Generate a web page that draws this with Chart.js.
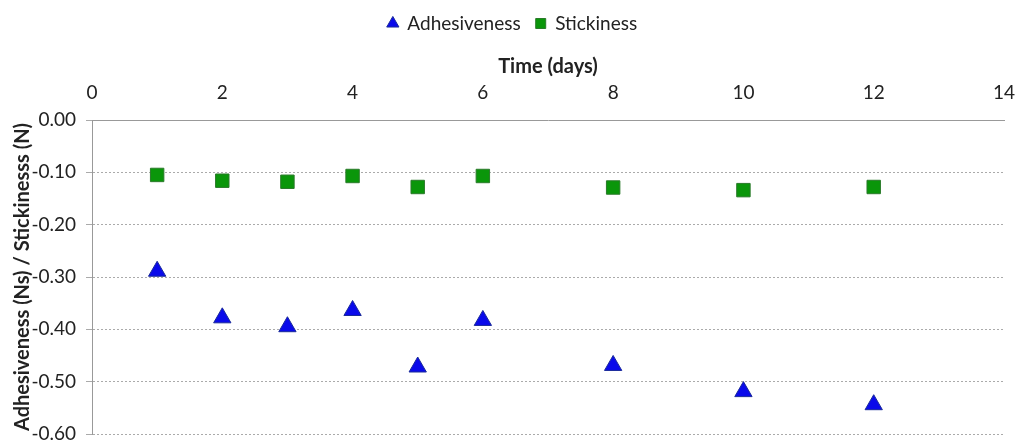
<!DOCTYPE html>
<html>
<head>
<meta charset="utf-8">
<script src="https://cdn.jsdelivr.net/npm/chart.js@4"></script>
<style>
  html, body { margin: 0; padding: 0; background: #fff; }
  #wrap { width: 1016px; height: 441px; }
</style>
</head>
<body>
<div id="wrap"><canvas id="chart" width="1016" height="441"></canvas></div>
<script>
// Time (days) of each measurement
const days = [1, 2, 3, 4, 5, 6, 8, 10, 12];
// Adhesiveness (Ns)
const adhesiveness = [-0.289, -0.378, -0.395, -0.364, -0.472, -0.383, -0.469, -0.519, -0.544];
// Stickiness (N)
const stickiness = [-0.105, -0.116, -0.118, -0.107, -0.128, -0.107, -0.129, -0.134, -0.128];

const xTicks = [0, 2, 4, 6, 8, 10, 12, 14];
const yTicks = [0, -0.1, -0.2, -0.3, -0.4, -0.5, -0.6];

function toPoints(xs, ys) {
  return xs.map((x, i) => ({ x: x, y: ys[i] }));
}

const font = "Lato, 'Liberation Sans', sans-serif";

new Chart(document.getElementById('chart').getContext('2d'), {
  type: 'scatter',
  data: {
    datasets: [{
      label: 'Adhesiveness',
      data: toPoints(days, adhesiveness),
      pointStyle: 'triangle',
      pointRadius: 10,
      pointHoverRadius: 10,
      backgroundColor: '#0a0aea',
      borderColor: '#1a2a9a',
      borderWidth: 1
    },
    {
      label: 'Stickiness',
      data: toPoints(days, stickiness),
      pointStyle: 'rect',
      pointRadius: 9.5,
      pointHoverRadius: 9.5,
      backgroundColor: '#0a960a',
      borderColor: '#2a7a2a',
      borderWidth: 1
    }]
  },
  options: {
    responsive: false,
    animation: false,
    // legend is centred between these paddings
    layout: { autoPadding: false, padding: { left: 12, right: 3, top: -1, bottom: 7 } },
    plugins: {
      tooltip: { enabled: false },
      legend: {
        position: 'top',
        labels: {
          usePointStyle: true,
          boxWidth: 10,
          boxHeight: 10,
          padding: 15,
          color: '#222',
          font: { family: font, size: 19 }
        }
      }
    },
    scales: {
      x: {
        type: 'linear',
        position: 'top',
        min: 0,
        max: 14,
        afterBuildTicks: (scale) => { scale.ticks = xTicks.map(v => ({ value: v })); },
        afterFit: (scale) => {
          scale.height = 77;
          scale.paddingLeft = 0;
          scale.paddingRight = 12;
        },
        title: {
          display: true,
          text: 'Time (days)',
          color: '#222',
          font: { family: font, size: 20, weight: 'bold' },
          padding: { top: 12, bottom: 0 }
        },
        ticks: {
          color: '#222',
          padding: 16,
          font: { family: font, size: 19 }
        },
        grid: { drawOnChartArea: false, drawTicks: false, color: '#999' },
        border: { color: '#999', width: 1 }
      },
      y: {
        type: 'linear',
        min: -0.6,
        max: 0,
        afterBuildTicks: (scale) => { scale.ticks = yTicks.map(v => ({ value: v })); },
        afterFit: (scale) => {
          scale.width = 80;
          scale.paddingTop = 0;
          scale.paddingBottom = 0;
        },
        title: {
          display: true,
          text: 'Adhesiveness (Ns) / Stickinesss (N)',
          color: '#222',
          font: { family: font, size: 20, weight: 'bold' },
          padding: { top: -1, bottom: 0 }
        },
        ticks: {
          color: '#222',
          padding: 10,
          font: { family: font, size: 19 },
          callback: (v) => Number(v).toFixed(2)
        },
        grid: { color: '#aaa', tickLength: 6, lineWidth: 1 },
        border: { color: '#999', width: 1, dash: [2, 2] }
      }
    }
  }
});
</script>
</body>
</html>
